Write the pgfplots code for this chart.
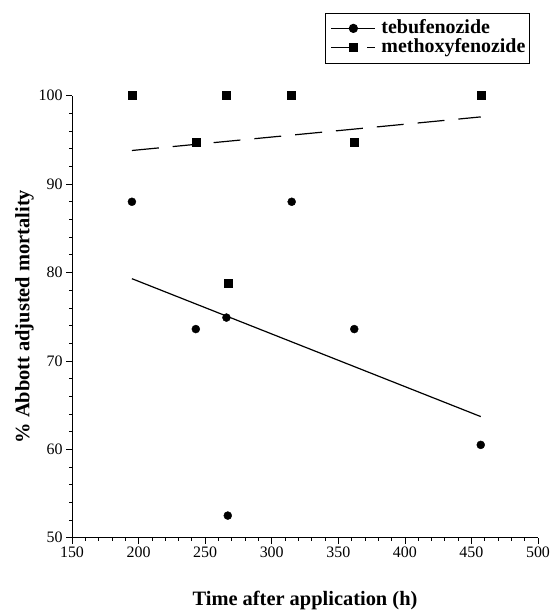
\documentclass[border=0pt]{standalone}
\usepackage{fontspec}
\setmainfont{Liberation Serif}
\usepackage{pgfplots}
\pgfplotsset{compat=1.18}
\begin{document}
\begin{tikzpicture}[x=1bp,y=1bp]
\useasboundingbox (0,0) rectangle (553,615);
\begin{axis}[
  at={(72bp,77.3bp)}, anchor=south west,
  scale only axis, width=466bp, height=442bp,
  xmin=150, xmax=500, ymin=50, ymax=100,
  axis lines=left, axis line style={-, line width=0.8bp},
  xtick={150,200,...,500}, ytick={50,60,...,100},
  minor x tick num=4, minor y tick num=4,
  tick align=outside, major tick length=6bp, minor tick length=3bp,
  tick style={black, line width=0.7bp},
  /pgf/number format/assume math mode=true,
  ticklabel style={font=\fontsize{16}{19}\selectfont},
  xlabel={\textbf{Time after application (h)}},
  ylabel={\textbf{\% Abbott adjusted mortality}},
  label style={font=\fontsize{20.5}{24}\selectfont},
  xlabel style={yshift=-26bp},
  ylabel style={yshift=-2bp},
  legend style={at={(0.981,1.188)}, anchor=north east, draw=black, line width=0.6bp,
    font=\fontsize{20}{22}\selectfont\bfseries, inner xsep=3bp, inner ysep=6bp, row sep=0bp,
    nodes={inner sep=0.5bp, text height=14bp, text depth=4bp},
    legend cell align=left},
  legend image code/.code={\draw[mark repeat=2,mark phase=2,#1] plot coordinates {(0bp,0bp) (22bp,0bp) (44bp,0bp)};\path (-2bp,0bp) (49bp,0bp);},
]
\addlegendimage{black, line width=1.2bp, mark=*, mark size=4bp, mark options={solid}}
\addlegendentry{tebufenozide}
\addlegendimage{black, line width=1.2bp, dash pattern=on 25bp off 11bp, mark=square*, mark size=4bp, mark options={solid}}
\addlegendentry{methoxyfenozide}
\addplot[black, line width=1.2bp, forget plot] coordinates {(195,79.3) (457,63.7)};
\addplot[black, line width=1.2bp, dash pattern=on 27bp off 14bp, forget plot] coordinates {(195,93.8) (457,97.6)};
\addplot[only marks, black, mark=*, mark size=4bp, forget plot] coordinates {
(195,88) (243,73.6) (266,74.9) (267,52.5) (315,88) (362,73.6) (457,60.5)};
\addplot[only marks, black, mark=square*, mark size=4bp, forget plot] coordinates {
(195,100) (243,94.7) (266,100) (267,78.8) (315,100) (362,94.7) (457,100)};
\end{axis}
\end{tikzpicture}
\end{document}
